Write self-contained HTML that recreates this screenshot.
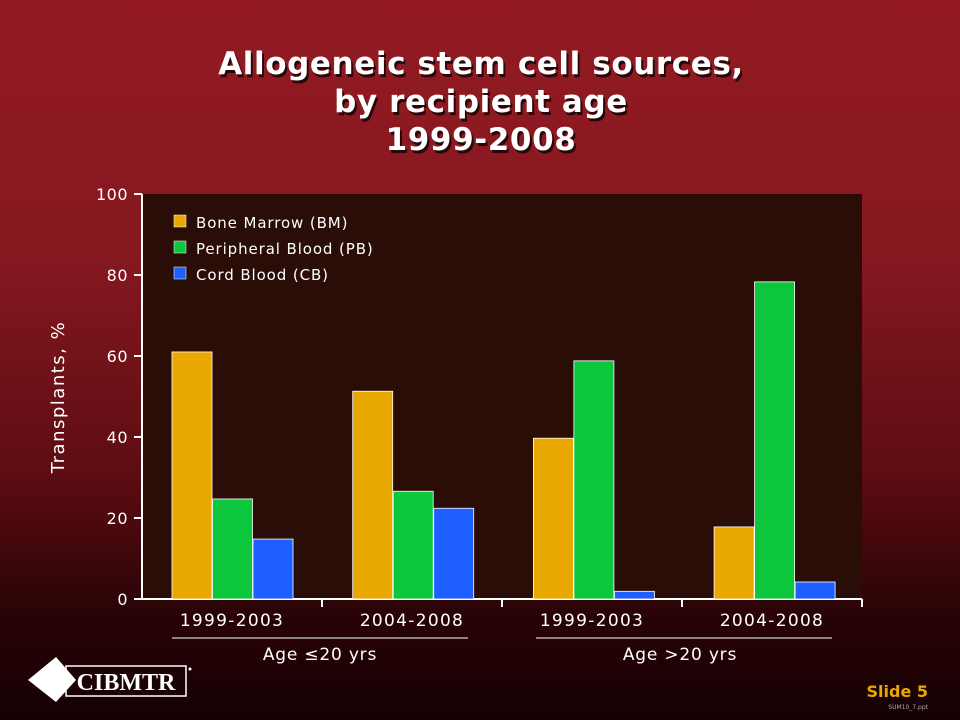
<!DOCTYPE html>
<html><head><meta charset="utf-8"><style>
body{margin:0;width:960px;height:720px;overflow:hidden;font-family:"DejaVu Sans","Liberation Sans",sans-serif;}
#bg{position:absolute;left:0;top:0;width:960px;height:720px;background:linear-gradient(#931a22 0%,#861820 35%,#5e0d13 65%,#2a0306 85%,#150104 100%);}
</style></head><body>
<div id="bg"></div>
<svg width="960" height="720" style="position:absolute;left:0;top:0" id="chart">
<g font-family="DejaVu Sans, sans-serif" font-weight="bold" font-size="31" letter-spacing="0.6" text-anchor="middle">
<text x="483" y="77" fill="#000" opacity="0.7">Allogeneic stem cell sources,</text>
<text x="481" y="74" fill="#fff">Allogeneic stem cell sources,</text>
<text x="483" y="115" fill="#000" opacity="0.7">by recipient age</text>
<text x="481" y="112" fill="#fff">by recipient age</text>
<text x="483" y="153" fill="#000" opacity="0.7">1999-2008</text>
<text x="481" y="150" fill="#fff">1999-2008</text>
</g>
<rect x="142" y="194" width="720" height="405" fill="#2a0d06"/>
<g id="axes"></g>
<g id="bars"></g>
<text transform="translate(64,397) rotate(-90)" text-anchor="middle" fill="#fff" font-size="18" letter-spacing="1.5">Transplants, %</text>
<g font-size="15" letter-spacing="0.9" fill="#fff">
<rect x="174" y="215" width="12" height="12" fill="#e8a800" stroke="#fff" stroke-width="0.5"/>
<text x="196" y="228">Bone Marrow (BM)</text>
<rect x="174" y="241" width="12" height="12" fill="#0cc63c" stroke="#fff" stroke-width="0.5"/>
<text x="196" y="254">Peripheral Blood (PB)</text>
<rect x="174" y="267" width="12" height="12" fill="#1e60ff" stroke="#fff" stroke-width="0.5"/>
<text x="196" y="280">Cord Blood (CB)</text>
</g>
<g fill="#fff" font-size="17" letter-spacing="0.8" text-anchor="middle">
<line x1="172" y1="638" x2="468" y2="638" stroke="#fff" stroke-width="1"/>
<text x="320" y="660">Age ≤20 yrs</text>
<line x1="536" y1="638" x2="832" y2="638" stroke="#fff" stroke-width="1"/>
<text x="680" y="660">Age &gt;20 yrs</text>
</g>
<g>
<polygon points="28,680 56,657 76,680 56,702" fill="#fff"/>
<rect x="66" y="666" width="120" height="30" fill="none" stroke="#fff" stroke-width="1.5"/>
<text x="126" y="690" text-anchor="middle" fill="#fff" font-family="Liberation Serif, serif" font-weight="bold" font-size="24">CIBMTR</text>
<circle cx="190" cy="669" r="1.5" fill="#fff"/>
</g>
<text x="928" y="697" text-anchor="end" fill="#e8a800" font-weight="bold" font-size="16">Slide 5</text>
<text x="928" y="709" text-anchor="end" fill="#aaa" font-size="6">SUM10_7.ppt</text>
</svg>
<script>
const categories=["1999-2003","2004-2008","1999-2003","2004-2008"];
const bmValues=[61,51.3,39.7,17.8];
const pbValues=[24.7,26.6,58.8,78.3];
const cbValues=[14.8,22.4,1.9,4.2];
const yTicks=[0,20,40,60,80,100];
const NS="http://www.w3.org/2000/svg";
const x0=142,y0=599,pw=720,ph=405,ymax=100;
const gw=pw/categories.length;
function yS(v){return y0-v/ymax*ph;}
function xS(i){return x0+i*gw;}
const axes=document.getElementById('axes'),bars=document.getElementById('bars');
function mk(tag,attrs,parent){const e=document.createElementNS(NS,tag);for(const k in attrs)e.setAttribute(k,attrs[k]);parent.appendChild(e);return e;}
let l=mk('line',{x1:x0,y1:194,x2:x0,y2:y0,stroke:'#fff','stroke-width':2},axes);


l=mk('line',{x1:x0,y1:y0,x2:x0+pw,y2:y0,stroke:'#fff','stroke-width':2},axes);


yTicks.forEach(t=>{
 const y=yS(t);
 let tk=mk('line',{x1:x0-8,y1:y,x2:x0,y2:y,stroke:'#fff','stroke-width':2},axes);
 
 
 let tx=mk('text',{x:x0-14,y:y+6,'text-anchor':'end',fill:'#fff','font-size':16,'letter-spacing':0.5},axes);
 tx.textContent=t;
 
 
});
categories.forEach((c,i)=>{
 let tk=mk('line',{x1:xS(i+1),y1:y0,x2:xS(i+1),y2:y0+8,stroke:'#fff','stroke-width':2},axes);
 
 
 let tx=mk('text',{x:xS(i)+gw/2,y:626,'text-anchor':'middle',fill:'#fff','font-size':17,'letter-spacing':1.3},axes);
 tx.textContent=c;
 
 
 const series=[[bmValues,'#e8a800','bm'],[pbValues,'#0cc63c','pb'],[cbValues,'#1e60ff','cb']];
 series.forEach((s,j)=>{
  const v=s[0][i];
  const b=mk('rect',{x:xS(i)+30+i*0.7+j*40.5,y:yS(v),width:40,height:y0-yS(v),fill:s[1],stroke:'#fff','stroke-width':0.8},bars);
  
  
 });
});
</script>
</body></html>
